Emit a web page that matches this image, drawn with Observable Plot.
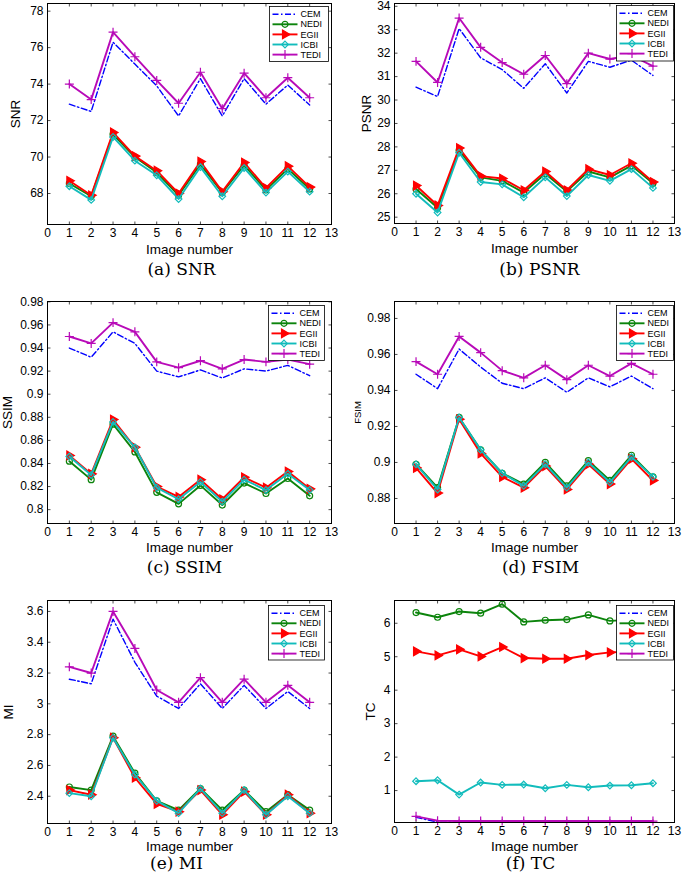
<!DOCTYPE html>
<html><head><meta charset="utf-8">
<script src="https://cdn.jsdelivr.net/npm/d3@7"></script>
<script src="https://cdn.jsdelivr.net/npm/@observablehq/plot@0.6"></script>
<style>
body{margin:0;background:#fff;}
#c{position:relative;width:685px;height:881px;background:#fff;overflow:hidden;}
#c svg{position:absolute;overflow:visible;background:transparent;}
</style></head><body><div id="c"></div>
<script>
// ---------------- data ----------------
const imageNumbers = [1,2,3,4,5,6,7,8,9,10,11,12];
const methods = ["CEM","NEDI","EGII","ICBI","TEDI"];
const xTicks = [0,1,2,3,4,5,6,7,8,9,10,11,12,13];

const snrCEM  = [72.9, 72.5, 76.3, 75.1, 73.9, 72.25, 74.3, 72.25, 74.3, 72.9, 73.95, 72.85];
const snrNEDI = [68.55, 67.85, 71.25, 70.0, 69.15, 67.9, 69.6, 68.05, 69.55, 68.2, 69.35, 68.25];
const snrEGII = [68.7, 67.9, 71.35, 70.05, 69.25, 68.0, 69.75, 68.1, 69.7, 68.3, 69.5, 68.35];
const snrICBI = [68.4, 67.65, 71.1, 69.8, 69.0, 67.7, 69.45, 67.85, 69.4, 68.05, 69.2, 68.1];
const snrTEDI = [74.0, 73.15, 76.85, 75.5, 74.2, 72.95, 74.65, 72.65, 74.6, 73.25, 74.35, 73.25];
const snrTicks = [68,70,72,74,76,78];

const psnrCEM  = [30.55, 30.15, 33.05, 31.8, 31.3, 30.5, 31.55, 30.3, 31.65, 31.4, 31.7, 31.05];
const psnrNEDI = [26.2, 25.4, 27.85, 26.7, 26.55, 26.05, 26.85, 26.1, 26.95, 26.7, 27.2, 26.45];
const psnrEGII = [26.35, 25.5, 27.95, 26.75, 26.65, 26.15, 26.95, 26.15, 27.05, 26.8, 27.3, 26.5];
const psnrICBI = [26.0, 25.2, 27.75, 26.5, 26.4, 25.85, 26.7, 25.9, 26.8, 26.55, 27.05, 26.25];
const psnrTEDI = [31.65, 30.75, 33.5, 32.25, 31.6, 31.1, 31.9, 30.7, 32.0, 31.75, 31.9, 31.45];
const psnrTicks = [25,26,27,28,29,30,31,32,33,34];

const ssimCEM  = [0.940, 0.932, 0.954, 0.944, 0.920, 0.915, 0.921, 0.914, 0.922, 0.920, 0.925, 0.916];
const ssimNEDI = [0.842, 0.826, 0.874, 0.850, 0.815, 0.805, 0.821, 0.804, 0.823, 0.814, 0.827, 0.812];
const ssimEGII = [0.847, 0.831, 0.878, 0.854, 0.820, 0.811, 0.826, 0.809, 0.828, 0.819, 0.833, 0.818];
const ssimICBI = [0.846, 0.830, 0.876, 0.854, 0.819, 0.809, 0.824, 0.807, 0.826, 0.817, 0.831, 0.817];
const ssimTEDI = [0.950, 0.944, 0.962, 0.954, 0.928, 0.923, 0.929, 0.922, 0.930, 0.928, 0.930, 0.926];
const ssimTicks = [0.8,0.82,0.84,0.86,0.88,0.9,0.92,0.94,0.96,0.98];

const fsimCEM  = [0.949, 0.941, 0.963, 0.953, 0.944, 0.941, 0.947, 0.939, 0.947, 0.942, 0.948, 0.941];
const fsimNEDI = [0.899, 0.886, 0.925, 0.907, 0.894, 0.888, 0.900, 0.887, 0.901, 0.890, 0.904, 0.892];
const fsimEGII = [0.897, 0.883, 0.924, 0.905, 0.892, 0.886, 0.898, 0.885, 0.899, 0.888, 0.902, 0.890];
const fsimICBI = [0.899, 0.885, 0.925, 0.907, 0.894, 0.887, 0.899, 0.886, 0.900, 0.889, 0.903, 0.892];
const fsimTEDI = [0.956, 0.949, 0.970, 0.961, 0.951, 0.947, 0.954, 0.946, 0.954, 0.948, 0.955, 0.949];
const fsimTicks = [0.88,0.9,0.92,0.94,0.96,0.98];

const miCEM  = [3.16, 3.13, 3.55, 3.27, 3.05, 2.97, 3.13, 2.97, 3.12, 2.97, 3.08, 2.97];
const miNEDI = [2.46, 2.44, 2.79, 2.55, 2.37, 2.31, 2.45, 2.31, 2.44, 2.30, 2.41, 2.31];
const miEGII = [2.44, 2.41, 2.78, 2.52, 2.35, 2.30, 2.44, 2.28, 2.43, 2.28, 2.41, 2.29];
const miICBI = [2.42, 2.40, 2.78, 2.54, 2.37, 2.29, 2.45, 2.29, 2.44, 2.28, 2.40, 2.29];
const miTEDI = [3.24, 3.20, 3.60, 3.36, 3.09, 3.01, 3.17, 3.01, 3.16, 3.01, 3.12, 3.01];
const miTicks = [2.4,2.6,2.8,3,3.2,3.4,3.6];

const tcCEM  = [0.20, 0.06, 0.05, 0.05, 0.05, 0.05, 0.05, 0.05, 0.05, 0.05, 0.05, 0.05];
const tcNEDI = [6.32, 6.18, 6.35, 6.30, 6.57, 6.04, 6.09, 6.11, 6.25, 6.07, 6.10, 6.15];
const tcEGII = [5.16, 5.04, 5.22, 5.01, 5.29, 4.96, 4.94, 4.94, 5.05, 5.13, 5.15, 5.20];
const tcICBI = [1.28, 1.31, 0.88, 1.24, 1.17, 1.18, 1.07, 1.17, 1.10, 1.15, 1.16, 1.22];
const tcTEDI = [0.23, 0.10, 0.09, 0.09, 0.09, 0.09, 0.09, 0.09, 0.09, 0.09, 0.09, 0.09];
const tcTicks = [1,2,3,4,5,6];

// ---------------- styles ----------------
const styles = {
  CEM:  {color:"#0000ff", width:1.4, dash:"6,2.5,1.5,2.5", symbol:null},
  NEDI: {color:"#0c840c", width:1.9, dash:null, symbol:"circle", fill:"none", r:3},
  EGII: {color:"#ff0000", width:1.9, dash:null, symbol:"triangle", fill:"#ff0000", r:3.2, rotate:90},
  ICBI: {color:"#12bcbc", width:1.9, dash:null, symbol:"diamond2", fill:"none", r:3},
  TEDI: {color:"#b80ab8", width:1.9, dash:null, symbol:"plus", fill:"none", r:3}
};
const FONT = "'Liberation Sans', Arial, Helvetica, sans-serif";

const panels = [
  {series:{CEM:snrCEM,NEDI:snrNEDI,EGII:snrEGII,ICBI:snrICBI,TEDI:snrTEDI}, yTicks:snrTicks, yDomain:[66.3,78.42],
   ylabel:"SNR", caption:"(a) SNR", frame:[47,3,331,224], ylabX:15, ylabSize:13.5, xlabDy:25, cap:[181,269], legend:[268.5,5.5,60,56]},
  {series:{CEM:psnrCEM,NEDI:psnrNEDI,EGII:psnrEGII,ICBI:psnrICBI,TEDI:psnrTEDI}, yTicks:psnrTicks, yDomain:[24.73,34.12],
   ylabel:"PSNR", caption:"(b) PSNR", frame:[394,3,674,223], ylabX:366.5, ylabSize:13.5, xlabDy:25, cap:[539,269], legend:[615.5,5,58,56.5]},
  {series:{CEM:ssimCEM,NEDI:ssimNEDI,EGII:ssimEGII,ICBI:ssimICBI,TEDI:ssimTEDI}, yTicks:ssimTicks, yDomain:[0.788,0.9803],
   ylabel:"SSIM", caption:"(c) SSIM", frame:[47,301,331,523], ylabX:7.5, ylabSize:13.5, xlabDy:24, cap:[184,567], legend:[268,305,57,56]},
  {series:{CEM:fsimCEM,NEDI:fsimNEDI,EGII:fsimEGII,ICBI:fsimICBI,TEDI:fsimTEDI}, yTicks:fsimTicks, yDomain:[0.8661,0.9894],
   ylabel:"FSIM", caption:"(d) FSIM", frame:[394,301,674,523], ylabX:357.5, ylabSize:9.5, xlabDy:24, cap:[540,567], legend:[615.5,305,58,56]},
  {series:{CEM:miCEM,NEDI:miNEDI,EGII:miEGII,ICBI:miICBI,TEDI:miTEDI}, yTicks:miTicks, yDomain:[2.223,3.671],
   ylabel:"MI", caption:"(e) MI", frame:[47,600,331,823], ylabX:8, ylabSize:13.5, xlabDy:23.5, cap:[176,863], legend:[268,604.5,57,55.5]},
  {series:{CEM:tcCEM,NEDI:tcNEDI,EGII:tcEGII,ICBI:tcICBI,TEDI:tcTEDI}, yTicks:tcTicks, yDomain:[0.046,6.68],
   ylabel:"TC", caption:"(f) TC", frame:[394,600,674,822], ylabX:370.5, ylabSize:13.5, xlabDy:24.5, cap:[530,863], legend:[615.5,604.5,58,55.5]}
];

const fmt = d => String(+(+d).toFixed(2));
const tickShape = {draw(ctx, l) { ctx.moveTo(0, 0); ctx.lineTo(0, -l); }};
const container = document.getElementById("c");

function symbolFor(name) {
  return {circle:d3.symbolCircle, triangle:d3.symbolTriangle, diamond2:d3.symbolDiamond2, plus:d3.symbolPlus}[name];
}

for (const p of panels) {
  const [fl, ft, fr, fb] = p.frame;
  const mL = 50, mT = 6, mR = 8, mB = 60;
  const width = fr - fl + mL + mR;
  const height = fb - ft + mT + mB;
  const marks = [];
  // ticks (inward, on all four sides)
  const tk = {shape: tickShape, length: 2.6, anchor: "start", stroke: "#000", strokeWidth: 0.7};
  marks.push(Plot.vector(xTicks, {...tk, x: d => d, frameAnchor: "bottom", rotate: 0}));
  marks.push(Plot.vector(xTicks, {...tk, x: d => d, frameAnchor: "top", rotate: 180}));
  marks.push(Plot.vector(p.yTicks, {...tk, y: d => d, frameAnchor: "left", rotate: 90}));
  marks.push(Plot.vector(p.yTicks, {...tk, y: d => d, frameAnchor: "right", rotate: -90}));
  marks.push(Plot.axisX(xTicks, {tickSize: 0, tickPadding: 4, tickFormat: fmt, label: null, fontSize: 12, fill: "#000"}));
  marks.push(Plot.axisY(p.yTicks, {tickSize: 0, tickPadding: 4, tickFormat: fmt, label: null, fontSize: 12, fill: "#000"}));
  // series
  for (const m of methods) {
    const s = styles[m];
    const rows = imageNumbers.map((x, i) => ({x, y: p.series[m][i]}));
    marks.push(Plot.line(rows, {x: "x", y: "y", stroke: s.color, strokeWidth: s.width,
      strokeDasharray: s.dash || undefined, clip: true}));
    if (s.symbol) {
      marks.push(Plot.dot(rows, {x: "x", y: "y", symbol: s.symbol, r: s.r, stroke: s.color,
        fill: s.fill, strokeWidth: 1.2, rotate: s.rotate || 0}));
    }
  }
  marks.push(Plot.frame({stroke: "#000", strokeWidth: 1}));
  // labels
  marks.push(Plot.text([p.ylabel], {frameAnchor: "left", dx: p.ylabX - fl, rotate: -90, textAnchor: "middle",
    lineAnchor: "middle", fontSize: p.ylabSize, fill: "#000"}));
  marks.push(Plot.text(["Image number"], {frameAnchor: "bottom", dy: p.xlabDy, textAnchor: "middle",
    lineAnchor: "middle", fontSize: 13.5, fill: "#000"}));
  marks.push(Plot.text([p.caption], {frameAnchor: "bottom", dx: p.cap[0] - (fl + fr) / 2, dy: p.cap[1] - fb,
    textAnchor: "middle", lineAnchor: "middle", fontSize: 17, fontFamily: "'DejaVu Serif', serif", fill: "#000"}));

  const svg = Plot.plot({
    width, height, marginLeft: mL, marginTop: mT, marginRight: mR, marginBottom: mB,
    x: {domain: [0, 13], axis: null},
    y: {domain: p.yDomain, axis: null},
    style: {fontFamily: FONT, fontSize: "12px", background: "transparent", color: "#000", overflow: "visible"},
    marks
  });
  svg.style.left = (fl - mL) + "px";
  svg.style.top = (ft - mT) + "px";
  container.appendChild(svg);

  // legend box
  const [lx, ly, lw, lh] = p.legend;
  const lg = d3.select(container).append("svg")
    .attr("width", lw + 2).attr("height", lh + 2)
    .style("left", (lx - 1) + "px").style("top", (ly - 1) + "px");
  lg.append("rect").attr("x", 1.5).attr("y", 1.5).attr("width", lw - 1).attr("height", lh - 1)
    .attr("fill", "#fff").attr("stroke", "#000").attr("stroke-width", 0.8);
  methods.forEach((m, i) => {
    const s = styles[m];
    const cy = 1 + 8.2 + i * 10.1;
    lg.append("line").attr("x1", 4.5).attr("x2", 29.5).attr("y1", cy).attr("y2", cy)
      .attr("stroke", s.color).attr("stroke-width", s.width).attr("stroke-dasharray", s.dash);
    if (s.symbol) {
      lg.append("path").attr("d", d3.symbol(symbolFor(s.symbol), s.r * s.r * Math.PI)())
        .attr("transform", `translate(17,${cy}) rotate(${s.rotate || 0})`)
        .attr("stroke", s.color).attr("fill", s.fill).attr("stroke-width", 1.2);
    }
    lg.append("text").attr("x", 32.5).attr("y", cy).attr("dy", "0.35em")
      .attr("font-family", FONT).attr("font-size", 9).attr("fill", "#000").text(m);
  });
}
</script></body></html>
